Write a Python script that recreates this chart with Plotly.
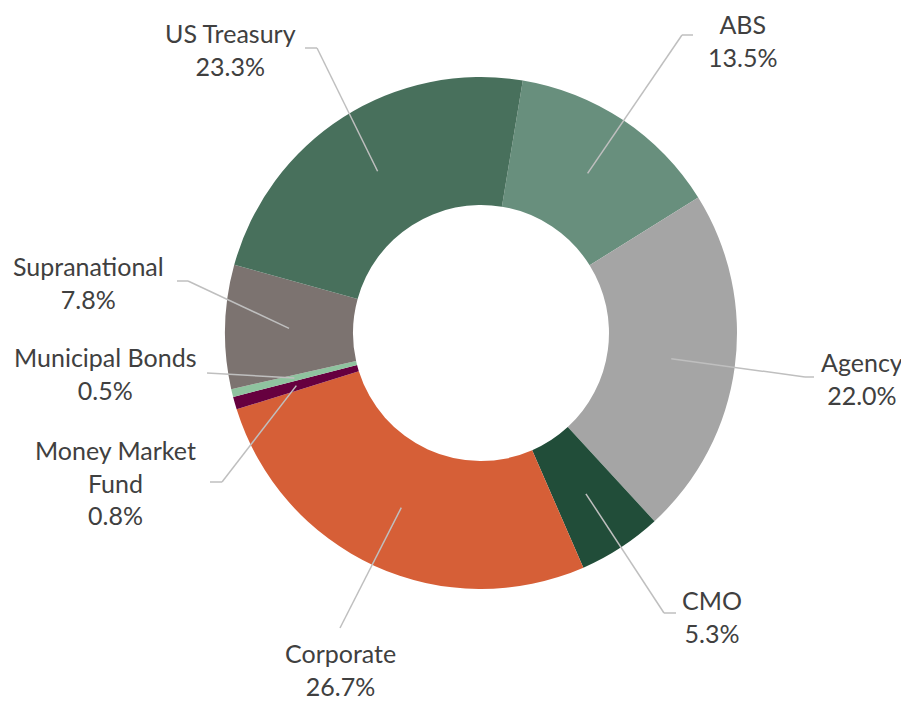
import math
import plotly.graph_objects as go

# ---- data ----
categories = ["ABS", "Agency", "CMO", "Corporate", "Money Market Fund",
              "Municipal Bonds", "Supranational", "US Treasury"]
values = [13.5, 22.0, 5.3, 26.7, 0.8, 0.5, 7.8, 23.3]
label_names = ["ABS", "Agency", "CMO", "Corporate", "Money Market<br>Fund",
               "Municipal Bonds", "Supranational", "US Treasury"]
colors = ["#688F7D", "#A5A5A5", "#214D39", "#D65F37", "#66003F",
          "#8FC39F", "#7C7370", "#48705C"]

# ---- layout (pixels, page coordinates; the page body has an 8px margin) ----
OFF = 8
W, H = 909 - OFF, 701 - OFF
CX, CY, R = 481, 333, 256
HOLE = 0.5
ROTATION = 9.4  # degrees clockwise from 12 o'clock

# label text centre and leader elbow points (pixel layout)
label_layout = {
    "ABS": dict(tx=742, ty=40, elbow=[(693, 35), (682, 35)]),
    "Agency": dict(tx=862, ty=378, elbow=[(814, 377), (805, 377)]),
    "CMO": dict(tx=712, ty=616, elbow=[(676, 613), (664, 613)]),
    "Corporate": dict(tx=340, ty=669, elbow=[(340, 628)]),
    "Money Market Fund": dict(tx=115, ty=483, elbow=[(210, 482), (222, 482)]),
    "Municipal Bonds": dict(tx=105, ty=373, elbow=[(207, 373)]),
    "Supranational": dict(tx=88, ty=282, elbow=[(177, 281), (188, 281)]),
    "US Treasury": dict(tx=230, ty=49, elbow=[(305, 48), (317, 48)]),
}

def px(x):
    return (x - OFF) / W

def py(y):
    return 1 - (y - OFF) / H

fig = go.Figure()
fig.add_trace(go.Pie(
    labels=categories, values=values, hole=HOLE, sort=False,
    direction="clockwise", rotation=ROTATION,
    marker=dict(colors=colors, line=dict(width=0)),
    textinfo="none", hoverinfo="label+value", showlegend=False,
    domain=dict(x=[px(CX - R), px(CX + R)], y=[py(CY + R), py(CY - R)]),
))

total = sum(values)
cum = 0.0
shapes = []
annotations = []
r_mid = R * (1 + HOLE) / 2
for name, disp, v in zip(categories, label_names, values):
    mid = ROTATION + (cum + v / 2) / total * 360
    cum += v
    a = math.radians(mid)
    ex = CX + r_mid * math.sin(a)
    ey = CY - r_mid * math.cos(a)
    lay = label_layout[name]
    pts = lay["elbow"] + [(ex, ey)]
    for (x0, y0), (x1, y1) in zip(pts[:-1], pts[1:]):
        shapes.append(dict(type="line", xref="paper", yref="paper",
                           x0=px(x0), y0=py(y0), x1=px(x1), y1=py(y1),
                           line=dict(color="#BFBFBF", width=1.5)))
    annotations.append(dict(
        x=px(lay["tx"]), y=py(lay["ty"]), xref="paper", yref="paper",
        xanchor="center", yanchor="middle", showarrow=False, align="center",
        text=f"{disp}<br>{v:.1f}%",
        font=dict(family="Lato", size=25, color="#404040")))

fig.update_layout(
    width=W, height=H, margin=dict(l=0, r=0, t=0, b=0),
    paper_bgcolor="white", plot_bgcolor="white",
    shapes=shapes, annotations=annotations,
)
fig.write_html("out.html")
